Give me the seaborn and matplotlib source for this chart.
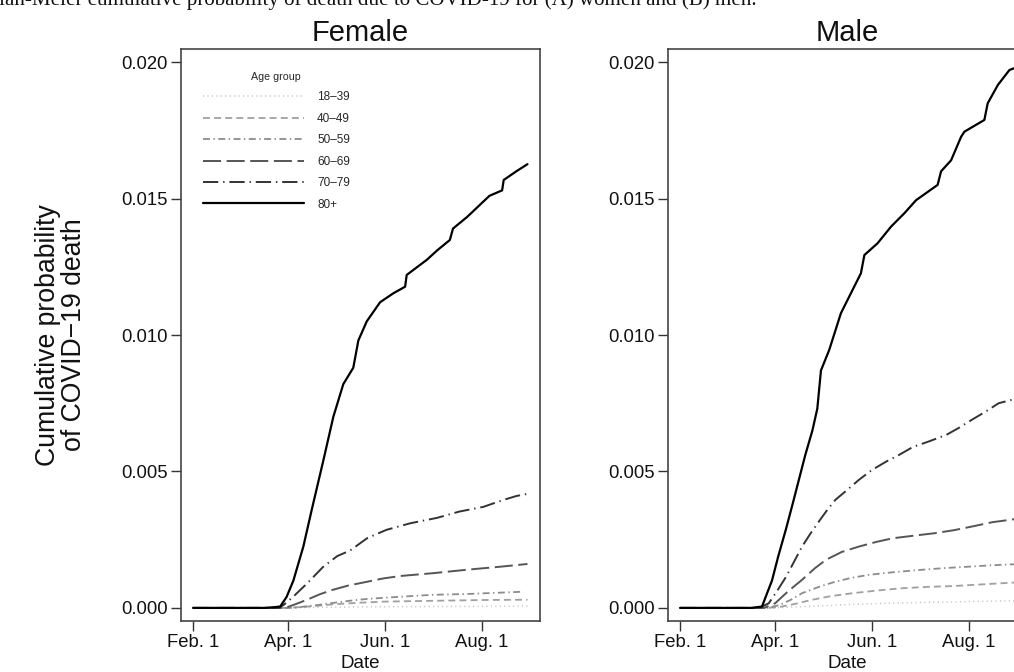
import numpy as np
import pandas as pd
import matplotlib
matplotlib.use("Agg")
import matplotlib.pyplot as plt
import matplotlib.dates as mdates
import seaborn as sns

# ---------------- data (days since Feb. 1, 2020 ; cumulative probability) ----------------
age_groups = ["18\u201339", "40\u201349", "50\u201359", "60\u201369", "70\u201379", "80+"]
x_tick_labels = ["Feb. 1", "Apr. 1", "Jun. 1", "Aug. 1"]
x_tick_dates = ["2020-02-01", "2020-04-01", "2020-06-01", "2020-08-01"]
y_ticks = [0.000, 0.005, 0.010, 0.015, 0.020]

# Female
f_days_1839 = [0, 55, 80, 110, 150, 190, 211]
f_vals_1839 = [0, 0, 0.00002, 0.00004, 0.00005, 0.00006, 0.00007]
f_days_4049 = [0, 60, 75, 88, 105, 120, 140, 162, 185, 211]
f_vals_4049 = [0, 0, 0.00006, 0.00013, 0.00019, 0.00023, 0.00025, 0.00027, 0.00029, 0.0003]
f_days_5059 = [0, 62, 67.5, 78, 88, 100, 110, 131, 151, 173, 190, 207]
f_vals_5059 = [0, 0, 0.00003, 0.0001, 0.00018, 0.00027, 0.00033, 0.00041, 0.00048, 0.00051, 0.00055, 0.00059]
f_days_6069 = [0, 58, 63, 72, 80, 88, 98, 110, 120, 131, 151, 173, 194, 211]
f_vals_6069 = [0, 0, 0.0001, 0.0003, 0.0005, 0.00066, 0.00082, 0.00096, 0.00108, 0.00117, 0.00127, 0.0014, 0.00151, 0.00161]
f_days_7079 = [0, 54, 57, 63, 72, 82, 91, 99, 110, 122, 137, 154, 168, 183, 196, 204, 211]
f_vals_7079 = [0, 0, 0.0001, 0.0004, 0.0009, 0.0015, 0.0019, 0.0021, 0.00256, 0.00286, 0.0031, 0.0033, 0.00353, 0.0037, 0.00396, 0.0041, 0.00418]
f_days_80 = [0, 45, 50, 55, 59, 63.3, 69.6, 74.9, 82.2, 88.5, 94.8, 101.1, 104.3, 109.6, 118,
             126.4, 133.8, 134.8, 143, 147.4, 154, 162, 164, 173, 187, 195, 196, 204, 211]
f_vals_80 = [0, 0, 0.00002, 0.00005, 0.0004, 0.001, 0.00225, 0.0036, 0.0054, 0.0070, 0.0082, 0.0088, 0.0098, 0.0105, 0.0112,
             0.01153, 0.01177, 0.0122, 0.01256, 0.01275, 0.0131, 0.01348, 0.0139, 0.01433, 0.0151, 0.0153, 0.01568, 0.0160, 0.01626]

# Male
m_days_1839 = [0, 58, 80, 105, 130, 170, 211]
m_vals_1839 = [0, 0, 0.00005, 0.00012, 0.00017, 0.00022, 0.00026]
m_days_4049 = [0, 55, 62.5, 72, 83.5, 95, 109, 125, 140, 156, 172, 190, 211]
m_vals_4049 = [0, 0, 0.00003, 0.00014, 0.0003, 0.00043, 0.00054, 0.00064, 0.00072, 0.00077, 0.0008, 0.00086, 0.00093]
m_days_5059 = [0, 55, 62.5, 70, 77, 88, 98, 108, 119, 135, 151, 167, 182, 196, 211]
m_vals_5059 = [0, 0, 0.0001, 0.0003, 0.00054, 0.00078, 0.00096, 0.0011, 0.00121, 0.00131, 0.00139, 0.00146, 0.00151, 0.00156, 0.0016]
m_days_6069 = [0, 53, 60, 68, 77, 85, 92, 102, 113, 124, 134, 148, 161, 173, 184, 197, 211]
m_vals_6069 = [0, 0, 0.00017, 0.0006, 0.00103, 0.00145, 0.00176, 0.00205, 0.00225, 0.00242, 0.00255, 0.00265, 0.00274, 0.00285, 0.00298, 0.00314, 0.00325]
m_days_7079 = [0, 50, 56, 61, 67, 72, 77, 82, 88, 93, 98, 105, 113, 121, 130, 138, 147, 157, 168, 176, 184, 193, 201, 211]
m_vals_7079 = [0, 0, 0.00017, 0.0006, 0.00115, 0.0017, 0.00225, 0.0027, 0.0032, 0.0036, 0.00396, 0.0043, 0.0047, 0.00505, 0.00536, 0.0056, 0.0059, 0.0061, 0.00634, 0.0066, 0.00689, 0.0072, 0.0075, 0.00765]
m_days_80 = [0, 45, 51.7, 54, 58, 62, 66.7, 71, 75, 79, 83.5, 86.6, 88.9, 94.1, 101.5, 107.8, 114.1, 116.3, 124.6,
             133.1, 141.5, 148.9, 162.5, 164.7, 171, 177.3, 179.4, 192, 194.1, 200.5, 207.8, 211]
m_vals_80 = [0, 0, 0.00005, 0.0004, 0.001, 0.0019, 0.00286, 0.0038, 0.0047, 0.0056, 0.0065, 0.0073, 0.0087, 0.00945, 0.0108, 0.01153, 0.01226, 0.01293, 0.01336,
             0.01397, 0.01446, 0.01494, 0.0155, 0.0160, 0.0164, 0.01726, 0.01745, 0.01788, 0.01849, 0.01916, 0.01971, 0.01978]

female = [(f_days_1839, f_vals_1839), (f_days_4049, f_vals_4049), (f_days_5059, f_vals_5059),
          (f_days_6069, f_vals_6069), (f_days_7079, f_vals_7079), (f_days_80, f_vals_80)]
male = [(m_days_1839, m_vals_1839), (m_days_4049, m_vals_4049), (m_days_5059, m_vals_5059),
        (m_days_6069, m_vals_6069), (m_days_7079, m_vals_7079), (m_days_80, m_vals_80)]

# ---------------- styling ----------------
sns.set_style("ticks")
plt.rcParams["font.family"] = ["Liberation Sans", "DejaVu Sans"]
plt.rcParams["lines.scale_dashes"] = False

colors = ["#c4c4c4", "#a0a0a0", "#8c8c8c", "#555555", "#333333", "#000000"]
styles = [(0, (0.8, 2.4)), (0, (5, 3)), (0, (5, 2.5, 1, 2.5)), (0, (13, 4)), (0, (11, 3.5, 1, 3.5)), "-"]
widths = [1.1, 1.3, 1.3, 1.4, 1.4, 1.6]

start = pd.Timestamp("2020-02-01")

fig = plt.figure(figsize=(10.14, 6.72), dpi=100)
ax_f = fig.add_axes([181 / 1014, 1 - 621 / 672, 359 / 1014, 572 / 672])
ax_m = fig.add_axes([668 / 1014, 1 - 621 / 672, 359 / 1014, 572 / 672])

x0 = mdates.date2num(start) - 7.6
x1 = mdates.date2num(start) + 218.9

for ax, data, title in [(ax_f, female, "Female"), (ax_m, male, "Male")]:
    for (days, vals), lab, c, ls, lw in zip(data, age_groups, colors, styles, widths):
        df = pd.DataFrame({"date": start + pd.to_timedelta(days, unit="D"), "p": vals})
        sns.lineplot(data=df, x="date", y="p", ax=ax, color=c, linestyle=ls, lw=lw, label=lab)
    ax.set_xlim(x0, x1)
    ax.set_ylim(-0.00048, 0.02048)
    ax.set_yticks(y_ticks)
    ax.set_yticklabels([f"{v:.3f}" for v in y_ticks])
    ax.set_xticks([mdates.date2num(pd.Timestamp(d)) for d in x_tick_dates])
    ax.set_xticklabels(x_tick_labels)
    ax.tick_params(axis="both", direction="out", length=7, width=1.0, color="#333333",
                   labelsize=13.3, pad=2.5, labelcolor="#111111")
    for sp in ax.spines.values():
        sp.set_visible(True)
        sp.set_color("#444444")
        sp.set_linewidth(1.2)
    ax.set_xlabel("Date", fontsize=13.5, labelpad=3, color="#111111")
    ax.set_ylabel("")
    ax.set_title(title, fontsize=21, pad=6, color="#111111")
    ax.grid(False)

ax_m.get_legend().remove()
leg = ax_f.legend(loc="upper left", bbox_to_anchor=(0.06, 0.96), frameon=False,
                  title="Age group", fontsize=8.5, title_fontsize=7.7,
                  handlelength=8.6, handletextpad=1.1, labelspacing=0.8,
                  borderpad=0, borderaxespad=0)

fig.text(61 / 1014, 1 - 335 / 672, "Cumulative probability\nof COVID\u221219 death",
         rotation=90, ha="center", va="center", fontsize=19.2, linespacing=1.0, color="#111111")

fig.text(757 / 1014, 1 - 5 / 672,
         "Kaplan-Meier cumulative probability of death due to COVID-19 for (A) women and (B) men.",
         ha="right", va="baseline", fontsize=15.1, family=["Liberation Serif", "DejaVu Serif"], color="#111111")

fig.savefig("out.png", dpi=100)
